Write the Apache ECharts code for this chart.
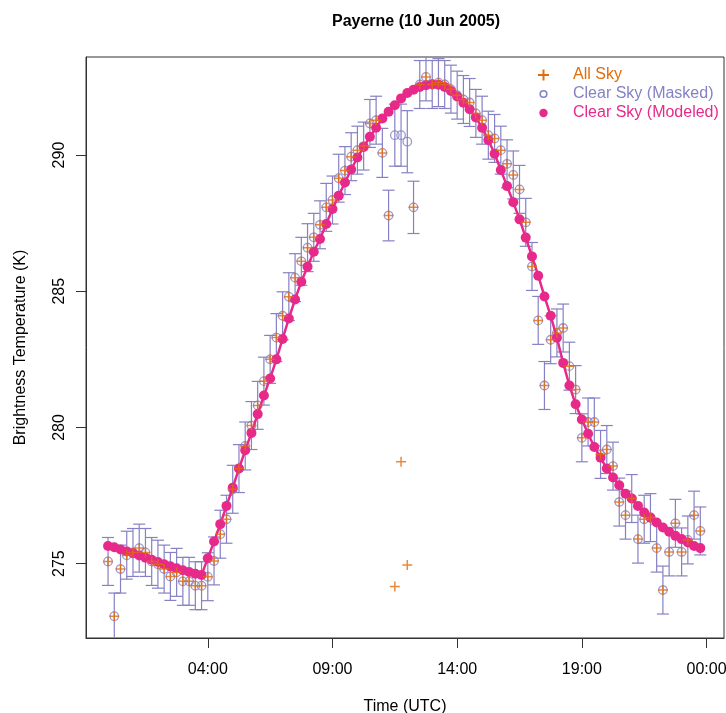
<!DOCTYPE html>
<html>
<head>
<meta charset="utf-8">
<title>Payerne (10 Jun 2005)</title>
<script src="https://cdn.jsdelivr.net/npm/echarts@6/dist/echarts.min.js"></script>
<style>
  html, body { margin: 0; padding: 0; background: #fff; }
  #main { width: 726px; height: 713px; }
</style>
</head>
<body>
<div id="main"></div>
<script>
// 15-minute observation times (UTC)
var times = [
  '00:00','00:15','00:30','00:45','01:00','01:15','01:30','01:45',
  '02:00','02:15','02:30','02:45','03:00','03:15','03:30','03:45',
  '04:00','04:15','04:30','04:45','05:00','05:15','05:30','05:45',
  '06:00','06:15','06:30','06:45','07:00','07:15','07:30','07:45',
  '08:00','08:15','08:30','08:45','09:00','09:15','09:30','09:45',
  '10:00','10:15','10:30','10:45','11:00','11:15','11:30','11:45',
  '12:00','12:15','12:30','12:45','13:00','13:15','13:30','13:45',
  '14:00','14:15','14:30','14:45','15:00','15:15','15:30','15:45',
  '16:00','16:15','16:30','16:45','17:00','17:15','17:30','17:45',
  '18:00','18:15','18:30','18:45','19:00','19:15','19:30','19:45',
  '20:00','20:15','20:30','20:45','21:00','21:15','21:30','21:45',
  '22:00','22:15','22:30','22:45','23:00','23:15','23:30','23:45'
];

// All Sky brightness temperature (K)
var allSky = [
  275.08, 273.07, 274.80, 275.31, 275.41, 275.57, 275.41, 275.08,
  274.98, 274.80, 274.53, 274.68, 274.35, 274.35, 274.19, 274.19,
  274.52, 275.10, 276.08, 276.63, 277.73, 278.49, 279.32, 280.07,
  280.81, 281.70, 282.50, 283.30, 284.10, 284.80, 285.50, 286.10,
  286.60, 286.98, 287.44, 288.08, 288.35, 289.15, 289.43, 289.94,
  290.18, 290.33, 291.16, 291.28, 290.08, 287.78, 274.16, 278.74,
  274.95, 288.08, 292.59, 292.87, 292.59, 292.66, 292.59, 292.42,
  292.20, 292.04, 291.93, 291.53, 291.28, 290.73, 290.61, 290.18,
  289.68, 289.27, 288.74, 287.53, 285.91, 283.93, 281.54, 283.22,
  283.47, 283.65, 282.25, 281.39, 279.62, 280.20, 280.20, 279.01,
  279.19, 278.58, 277.26, 276.78, 277.39, 275.90, 276.63, 276.69,
  275.57, 274.03, 275.43, 276.48, 275.43, 275.87, 276.78, 276.20
];

// Clear Sky (Masked) observation and its error (+/- K)
var clearMasked = [
  275.08, 273.07, 274.80, 275.31, 275.41, 275.57, 275.41, 275.08,
  274.98, 274.80, 274.53, 274.68, 274.35, 274.35, 274.19, 274.19,
  274.52, 275.10, 276.08, 276.63, 277.73, 278.49, 279.32, 280.07,
  280.81, 281.70, 282.50, 283.30, 284.10, 284.80, 285.50, 286.10,
  286.60, 286.98, 287.44, 288.08, 288.35, 289.15, 289.43, 289.94,
  290.18, 290.33, 291.16, 291.28, 290.08, 287.78, 290.73, 290.73,
  290.49, 288.08, 292.59, 292.87, 292.59, 292.66, 292.59, 292.42,
  292.20, 292.04, 291.93, 291.53, 291.28, 290.73, 290.61, 290.18,
  289.68, 289.27, 288.74, 287.53, 285.91, 283.93, 281.54, 283.22,
  283.47, 283.65, 282.25, 281.39, 279.62, 280.20, 280.20, 279.01,
  279.19, 278.58, 277.26, 276.78, 277.39, 275.90, 276.63, 276.69,
  275.57, 274.03, 275.43, 276.48, 275.43, 275.87, 276.78, 276.20
];
var maskErr = [
  0.88, 0.85, 0.88, 0.88, 0.88, 0.88, 0.88, 0.88,
  0.88, 0.88, 0.88, 0.88, 0.88, 0.88, 0.88, 0.88,
  0.88, 0.88, 0.88, 0.88, 0.88, 0.88, 0.88, 0.88,
  0.88, 0.88, 0.88, 0.88, 0.88, 0.88, 0.88, 0.88,
  0.88, 0.88, 0.88, 0.88, 0.88, 0.88, 0.88, 0.88,
  0.88, 0.88, 0.88, 0.88, 0.90, 0.93, 1.14, 1.14,
  1.14, 0.96, 0.88, 0.88, 0.88, 0.88, 0.88, 0.88,
  0.88, 0.88, 0.88, 0.88, 0.88, 0.88, 0.88, 0.88,
  0.88, 0.88, 0.88, 0.88, 0.88, 0.88, 0.88, 0.88,
  0.88, 0.88, 0.88, 0.88, 0.88, 0.88, 0.88, 0.88,
  0.88, 0.88, 0.88, 0.88, 0.88, 0.88, 0.88, 0.88,
  0.88, 0.88, 0.88, 0.88, 0.88, 0.88, 0.88, 0.88
];

// Clear Sky (Modeled)
var clearModeled = [
  275.65, 275.60, 275.52, 275.45, 275.38, 275.30, 275.22, 275.14,
  275.06, 274.98, 274.90, 274.83, 274.76, 274.69, 274.63, 274.58,
  275.20, 275.81, 276.45, 277.12, 277.79, 278.49, 279.16, 279.80,
  280.49, 281.17, 281.80, 282.50, 283.25, 284.00, 284.70, 285.35,
  285.90, 286.45, 286.92, 287.47, 288.02, 288.51, 288.99, 289.47,
  289.91, 290.30, 290.67, 291.00, 291.34, 291.59, 291.83, 292.08,
  292.28, 292.40, 292.50, 292.56, 292.60, 292.58, 292.50, 292.35,
  292.15, 291.92, 291.68, 291.38, 291.00, 290.55, 290.05, 289.45,
  288.86, 288.27, 287.64, 286.97, 286.28, 285.57, 284.81, 284.10,
  283.29, 282.37, 281.54, 280.85, 280.29, 279.77, 279.28, 278.89,
  278.49, 278.16, 277.88, 277.57, 277.39, 277.12, 276.88, 276.69,
  276.51, 276.33, 276.17, 276.02, 275.90, 275.78, 275.65, 275.57
];

var xTickHours = [4, 9, 14, 19, 24];
var xTickLabels = ['04:00', '09:00', '14:00', '19:00', '00:00'];
var yTicks = [275, 280, 285, 290];

var cOrange = '#E36C0A', cPurple = '#8581C4', cPink = '#E7298A';
var font = '"Liberation Sans", Arial, Helvetica, sans-serif';

function toHours(s) {
    var p = s.split(':');
    return +p[0] + (+p[1]) / 60;
}

var chart = echarts.init(document.getElementById('main'), null, { renderer: 'canvas' });

var allSkyData = [], maskedData = [], errData = [], modeledData = [];
for (var i = 0; i < times.length; i++) {
    var h = toHours(times[i]);
    allSkyData.push([h, allSky[i]]);
    maskedData.push([h, clearMasked[i]]);
    errData.push([h, clearMasked[i] - maskErr[i], clearMasked[i] + maskErr[i]]);
    modeledData.push([h, clearModeled[i]]);
}

var plusPath = 'path://M4.25,0h1.5v4.25h4.25v1.5h-4.25v4.25h-1.5v-4.25h-4.25v-1.5h4.25z';

var option = {
    animation: false,
    backgroundColor: '#fff',
    title: {
        text: 'Payerne (10 Jun 2005)',
        left: 411, top: 9, textAlign: 'center',
        textStyle: { fontFamily: font, fontSize: 16, fontWeight: 'bold', color: '#000' }
    },
    grid: {
        left: 86, right: 2, top: 57, bottom: 75,
        containLabel: false, outerBoundsMode: 'none',
        show: true, borderColor: '#333', borderWidth: 1, backgroundColor: 'transparent'
    },
    xAxis: {
        type: 'value', min: -0.884, max: 24.70,
        name: 'Time (UTC)', nameLocation: 'middle', nameGap: 61,
        nameTextStyle: { fontFamily: font, fontSize: 16, color: '#000' },
        axisLine: { show: true, onZero: false, lineStyle: { color: '#333', width: 1 } },
        splitLine: { show: false },
        axisTick: { show: true, length: 10, lineStyle: { color: '#333' }, customValues: xTickHours },
        axisLabel: {
            fontFamily: font, fontSize: 16, color: '#000', margin: 24,
            customValues: xTickHours,
            formatter: function (v) { return xTickLabels[xTickHours.indexOf(v)]; }
        }
    },
    yAxis: {
        type: 'value', min: 272.27, max: 293.60,
        name: 'Brightness Temperature (K)', nameLocation: 'middle', nameGap: 57,
        nameTextStyle: { fontFamily: font, fontSize: 16, color: '#000' },
        axisLine: { show: true, onZero: false, lineStyle: { color: '#333', width: 1 } },
        splitLine: { show: false },
        axisTick: { show: true, length: 10, lineStyle: { color: '#333' }, customValues: yTicks },
        axisLabel: {
            fontFamily: font, fontSize: 16, color: '#000', margin: 18, rotate: 90,
            customValues: yTicks
        }
    },
    series: [
        {
            name: 'Error', type: 'custom', z: 2,
            encode: { x: 0, y: [1, 2] },
            data: errData,
            renderItem: function (params, api) {
                var cs = params.coordSys;
                var hi = api.coord([api.value(0), api.value(2)]);
                var lo = api.coord([api.value(0), api.value(1)]);
                var top = Math.max(hi[1], cs.y), bot = Math.min(lo[1], cs.y + cs.height);
                var st = { stroke: cPurple, lineWidth: 1.2 };
                var kids = [{ type: 'line', shape: { x1: hi[0], y1: top, x2: hi[0], y2: bot }, style: st }];
                if (hi[1] >= cs.y) kids.push({ type: 'line', shape: { x1: hi[0] - 6, y1: hi[1], x2: hi[0] + 6, y2: hi[1] }, style: st });
                if (lo[1] <= cs.y + cs.height) kids.push({ type: 'line', shape: { x1: lo[0] - 6, y1: lo[1], x2: lo[0] + 6, y2: lo[1] }, style: st });
                return { type: 'group', children: kids };
            }
        },
        {
            name: 'Clear Sky (Masked)', type: 'scatter', z: 3,
            symbol: 'circle', symbolSize: 8.5,
            itemStyle: { color: 'transparent', borderColor: cPurple, borderWidth: 1.3 },
            data: maskedData
        },
        {
            name: 'Clear Sky (Modeled)', type: 'line', z: 4,
            symbol: 'circle', symbolSize: 10, showSymbol: true,
            lineStyle: { color: cPink, width: 2.5 },
            itemStyle: { color: cPink },
            data: modeledData
        },
        {
            name: 'All Sky', type: 'scatter', z: 5,
            symbol: plusPath, symbolSize: 10,
            itemStyle: { color: cOrange },
            data: allSkyData
        }
    ],
    graphic: [
        { type: 'rect', shape: { x: 538, y: 74, width: 11, height: 2 }, style: { fill: cOrange } },
        { type: 'rect', shape: { x: 542.5, y: 69.5, width: 2, height: 11 }, style: { fill: cOrange } },
        { type: 'circle', shape: { cx: 543.5, cy: 94, r: 3.3 }, style: { fill: 'none', stroke: cPurple, lineWidth: 1.6 } },
        { type: 'circle', shape: { cx: 543.5, cy: 113, r: 4.2 }, style: { fill: cPink } },
        { type: 'text', x: 573, y: 75, style: { text: 'All Sky', fill: cOrange, font: '16px ' + font, verticalAlign: 'middle' } },
        { type: 'text', x: 573, y: 94, style: { text: 'Clear Sky (Masked)', fill: cPurple, font: '16px ' + font, verticalAlign: 'middle' } },
        { type: 'text', x: 573, y: 113, style: { text: 'Clear Sky (Modeled)', fill: cPink, font: '16px ' + font, verticalAlign: 'middle' } }
    ]
};

chart.setOption(option);
window.onresize = chart.resize;
</script>
</body>
</html>
